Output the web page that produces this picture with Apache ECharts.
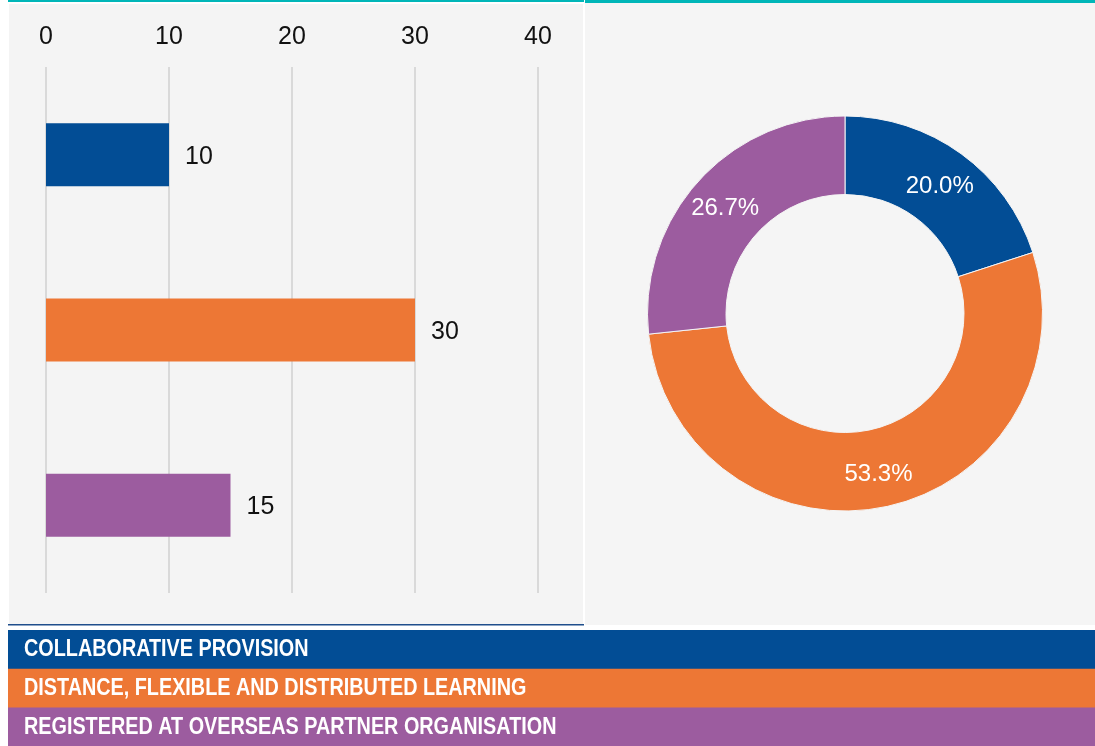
<!DOCTYPE html>
<html lang="en">
<head>
    <meta charset="utf-8">
    <title>Provision chart</title>
    <script src="https://cdn.jsdelivr.net/npm/echarts@6/dist/echarts.min.js"></script>
    <style>
        html, body { margin: 0; padding: 0; background: #fff; }
        #main { width: 1095px; height: 746px; }
    </style>
</head>
<body>
    <div id="main"></div>

    <script type="text/javascript">
    // categories, in the order they appear
    var categories = ['COLLABORATIVE PROVISION', 'DISTANCE, FLEXIBLE AND DISTRIBUTED LEARNING', 'REGISTERED AT OVERSEAS PARTNER ORGANISATION'];
    var colors = ['#024d95', '#ed7735', '#9c5c9f'];
    // bar values (left chart)
    var barValues = [10, 30, 15];
    // share values (right donut) -> 20.0% / 53.3% / 26.7%
    var pieValues = [3, 8, 4];
    var xTicks = [0, 10, 20, 30, 40];

    var myChart = echarts.init(document.getElementById('main'));

    var bandTop = 630, bandH = 38.7;
    var graphics = [
        // left panel
        { type: 'rect', z: -10, shape: { x: 9, y: 4, width: 574, height: 620 }, style: { fill: '#f4f4f4' } },
        { type: 'rect', z: -10, shape: { x: 8, y: 0, width: 576, height: 2 }, style: { fill: '#00b6b8' } },
        { type: 'rect', z: -10, shape: { x: 8, y: 624, width: 576, height: 1.5 }, style: { fill: '#1f4e8c' } },
        // right panel
        { type: 'rect', z: -10, shape: { x: 585, y: 3, width: 510, height: 622 }, style: { fill: '#f5f5f5' } },
        { type: 'rect', z: -10, shape: { x: 585, y: 0, width: 510, height: 3 }, style: { fill: '#00b6b8' } }
    ];
    // legend bands (condensed bold caps, squeezed horizontally)
    categories.forEach(function (name, i) {
        graphics.push({
            type: 'rect', z: -5,
            shape: { x: 8, y: bandTop + i * bandH, width: 1087, height: bandH + 0.5 },
            style: { fill: colors[i] }
        });
        graphics.push({
            type: 'text', z: 5,
            x: 24, y: bandTop + i * bandH + bandH / 2 + 0.5,
            scaleX: 0.825,
            style: {
                text: name, fill: '#fff',
                verticalAlign: 'middle', align: 'left',
                font: 'bold 24px "Liberation Sans", Arial, sans-serif'
            }
        });
    });

    myChart.setOption({
        animation: false,
        textStyle: { fontFamily: '"Liberation Sans", Arial, sans-serif' },
        graphic: graphics,
        grid: { left: 46, right: 557, top: 67, bottom: 153, containLabel: false },
        xAxis: {
            type: 'value',
            position: 'top',
            min: xTicks[0],
            max: xTicks[xTicks.length - 1],
            interval: 10,
            axisLine: { show: false },
            axisTick: { show: false },
            axisLabel: { color: '#111', fontSize: 25, margin: 17 },
            splitLine: { lineStyle: { color: '#d9d9d9', width: 2 } }
        },
        yAxis: {
            type: 'category',
            inverse: true,
            data: categories,
            axisLine: { show: false },
            axisTick: { show: false },
            axisLabel: { show: false }
        },
        series: [{
            type: 'bar',
            barWidth: 63,
            data: barValues.map(function (v, i) {
                return { value: v, itemStyle: { color: colors[i] } };
            }),
            label: {
                show: true, position: 'right', distance: 16,
                color: '#111', fontSize: 25, offset: [0, 2]
            }
        }, {
            type: 'pie',
            center: [845, 313.5],
            radius: [119, 197.5],
            startAngle: 90,
            clockwise: true,
            data: pieValues.map(function (v, i) {
                return { name: categories[i], value: v, itemStyle: { color: colors[i] } };
            }),
            itemStyle: { borderColor: '#f5f5f5', borderWidth: 1 },
            label: {
                show: true, position: 'inside',
                color: '#fff', fontSize: 24, offset: [0, 3],
                formatter: function (p) { return p.percent.toFixed(1) + '%'; }
            },
            labelLine: { show: false }
        }]
    });
    </script>
</body>
</html>
